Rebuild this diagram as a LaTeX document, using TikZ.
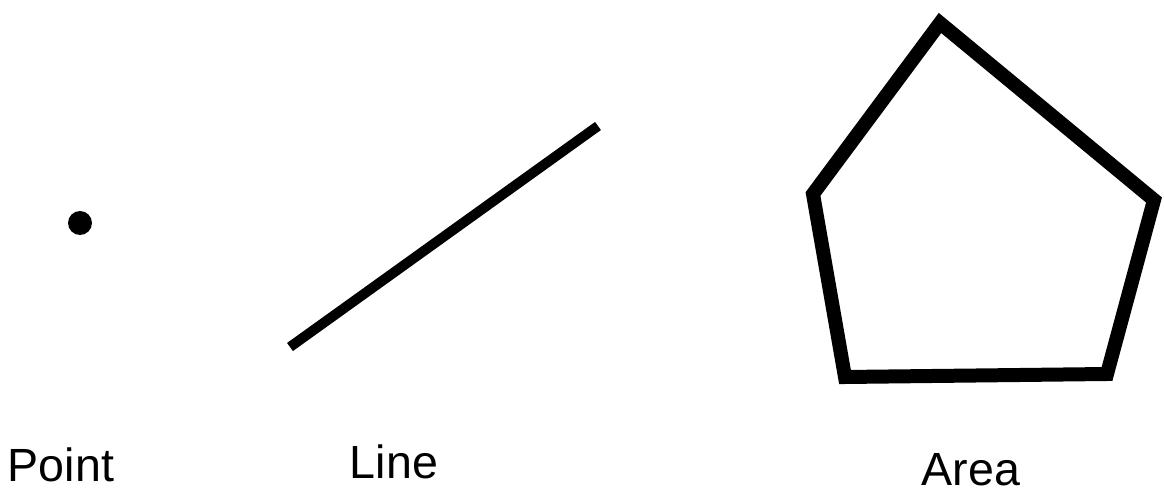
\documentclass[tikz,border=0pt]{standalone}
\usepackage{fontspec}
\setmainfont{Liberation Sans}
\tikzset{
    label/.style={anchor=base, inner sep=0pt, font=\fontsize{26.5}{30}\selectfont},
    shape line/.style={line width=#1, line join=miter},
}
\begin{document}
\begin{tikzpicture}[x=0.02cm, y=-0.02cm]
    \useasboundingbox (0,0) rectangle (1164,493);

    \fill (80,223) circle (12);
    \node[label] (point) at (61,481) {Point};

    \draw[shape line=0.2cm] (290,347) -- (598,126);
    \node[label] (line) at (394,479) {Line};

    \draw[shape line=0.28cm] (940,23) -- (1154,200) -- (1107,374)
        -- (845,377) -- (813,194) -- cycle;
    \node[label] (area) at (971,485) {Area};
\end{tikzpicture}
\end{document}
